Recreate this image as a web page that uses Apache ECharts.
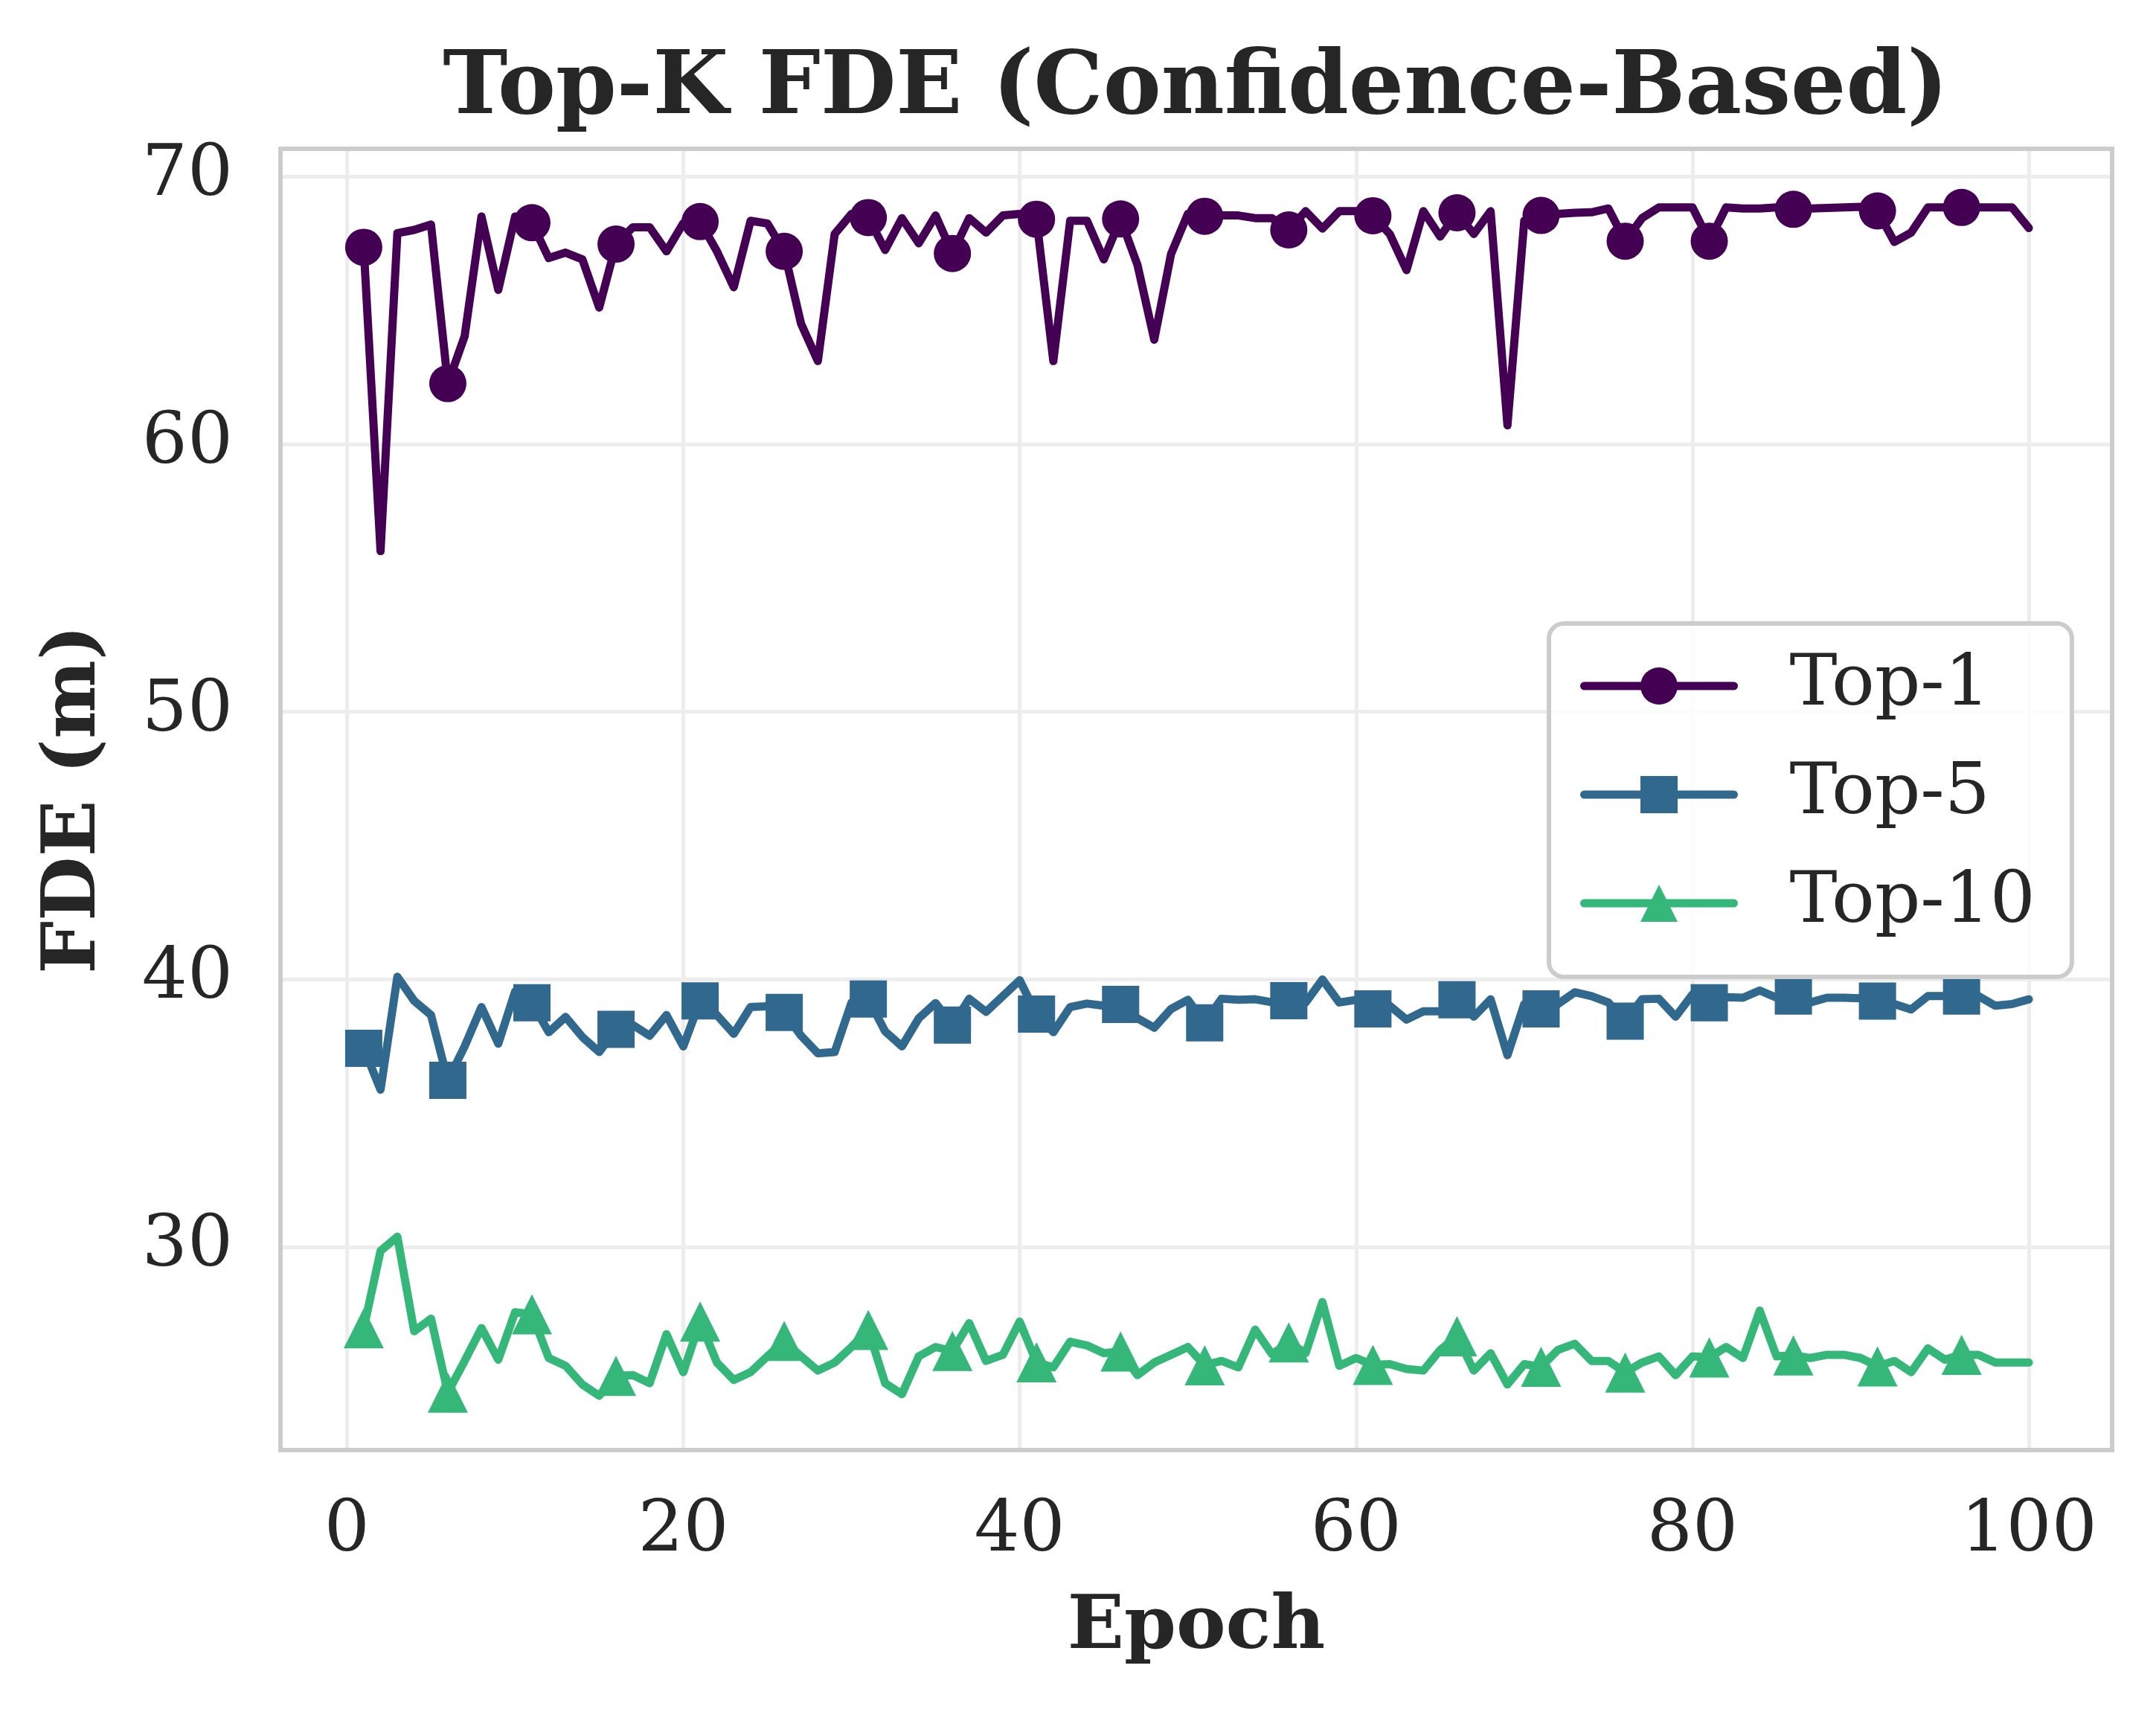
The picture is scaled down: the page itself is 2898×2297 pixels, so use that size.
<!DOCTYPE html>
<html>
<head>
<meta charset="utf-8">
<script src="https://cdn.jsdelivr.net/npm/echarts@6/dist/echarts.min.js"></script>
<style>
html,body{margin:0;padding:0;background:#ffffff;}
#chart{width:2898px;height:2297px;}
</style>
</head>
<body>
<div id="chart"></div>
<script>
// ---------------- data ----------------
const epochs = [
  1,2,3,4,5,6,7,8,9,10,
  11,12,13,14,15,16,17,18,19,20,
  21,22,23,24,25,26,27,28,29,30,
  31,32,33,34,35,36,37,38,39,40,
  41,42,43,44,45,46,47,48,49,50,
  51,52,53,54,55,56,57,58,59,60,
  61,62,63,64,65,66,67,68,69,70,
  71,72,73,74,75,76,77,78,79,80,
  81,82,83,84,85,86,87,88,89,90,
  91,92,93,94,95,96,97,98,99,100
];

const top1 = [
  67.35, 56.0, 67.88, 68.0, 68.2, 62.26, 64.03, 68.5, 65.76, 68.5,
  68.27, 66.95, 67.15, 66.9, 65.1, 67.47, 68.1, 68.1, 67.2, 68.25,
  68.31, 67.2, 65.86, 68.34, 68.24, 67.2, 64.5, 63.1, 67.85, 68.6,
  68.46, 67.25, 68.44, 67.5, 68.54, 67.12, 68.44, 67.9, 68.54, 68.6,
  68.4, 63.1, 68.34, 68.34, 66.9, 68.41, 66.7, 63.9, 67.1, 68.6,
  68.51, 68.54, 68.54, 68.44, 68.44, 68.0, 68.7, 68.05, 68.7, 68.7,
  68.53, 67.85, 66.5, 68.7, 67.75, 68.64, 67.85, 68.7, 60.7, 68.34,
  68.54, 68.6, 68.64, 68.66, 68.8, 67.58, 68.44, 68.84, 68.84, 68.84,
  67.58, 68.84, 68.8, 68.8, 68.84, 68.77, 68.8, 68.82, 68.84, 68.86,
  68.71, 67.55, 67.9, 68.84, 68.84, 68.84, 68.84, 68.84, 68.84, 68.07
];

const top5 = [
  37.43, 35.88, 40.1, 39.2, 38.67, 36.23, 37.5, 38.97, 37.6, 39.55,
  39.13, 38.03, 38.6, 37.85, 37.29, 38.14, 38.3, 37.9, 38.67, 37.5,
  39.2, 38.67, 37.97, 38.97, 39.0, 38.77, 37.9, 37.24, 37.29, 39.14,
  39.27, 38.06, 37.5, 38.55, 39.12, 38.3, 39.28, 38.79, 39.38, 39.97,
  38.71, 38.03, 38.97, 39.1, 39.02, 39.07, 38.55, 38.2, 38.9, 39.24,
  38.38, 39.28, 39.24, 39.26, 39.15, 39.21, 39.14, 40.0, 39.14, 39.24,
  38.9, 39.02, 38.5, 38.81, 38.81, 39.24, 38.61, 39.26, 37.17, 39.08,
  38.9, 39.08, 39.52, 39.38, 39.14, 38.44, 39.26, 39.28, 38.61, 39.44,
  39.13, 39.34, 39.32, 39.59, 39.32, 39.38, 39.14, 39.32, 39.32, 39.3,
  39.19, 39.08, 38.88, 39.38, 39.38, 39.38, 39.38, 39.02, 39.08, 39.26
];

const top10 = [
  26.97, 29.86, 30.39, 26.86, 27.33, 24.57, 25.75, 26.98, 25.8, 27.57,
  27.49, 25.86, 25.57, 24.87, 24.45, 25.19, 25.22, 24.92, 26.75, 25.33,
  27.22, 25.69, 25.04, 25.33, 25.92, 26.5, 25.92, 25.39, 25.69, 26.27,
  26.91, 24.92, 24.51, 25.92, 26.27, 26.12, 27.16, 25.75, 25.98, 27.22,
  25.7, 25.51, 26.47, 26.33, 26.04, 26.1, 25.22, 25.69, 25.98, 26.27,
  25.59, 25.75, 25.51, 26.92, 26.0, 26.44, 26.04, 27.95, 25.57, 25.86,
  25.6, 25.63, 25.45, 25.39, 26.16, 26.67, 25.39, 26.04, 24.87, 25.63,
  25.53, 26.16, 26.39, 25.75, 25.75, 25.32, 25.69, 25.92, 25.22, 25.92,
  25.88, 26.27, 25.86, 27.63, 25.92, 25.96, 25.86, 25.98, 25.98, 25.86,
  25.55, 25.75, 25.33, 26.22, 25.8, 25.98, 25.98, 25.69, 25.69, 25.69
];

const seriesNames = ['Top-1', 'Top-5', 'Top-10'];
const xTickLabels = [0, 20, 40, 60, 80, 100];
const yTickLabels = [30, 40, 50, 60, 70];

// ---------------- styles ----------------
const FONT = '"DejaVu Serif", "Liberation Serif", serif';
const TEXT = '#262626';
const colors = ['#440154', '#31688e', '#35b779'];
const symbols = ['circle', 'rect', 'triangle'];
const symbolSizes = [50, 50, [54, 54]];
const markEvery = 5;
const LINE_W = 11;

function buildData(values) {
  return epochs.map((e, i) => {
    const item = { value: [e, values[i]] };
    if (i % markEvery !== 0) item.symbol = 'none';
    return item;
  });
}
const allValues = [top1, top5, top10];

function tickFormatter(list) {
  return function (v) {
    const r = Math.round(v);
    return (Math.abs(v - r) < 1e-6 && list.indexOf(r) >= 0) ? String(r) : '';
  };
}

const chart = echarts.init(document.getElementById('chart'), null, { renderer: 'canvas' });

const option = {
  animation: false,
  backgroundColor: '#ffffff',
  textStyle: { fontFamily: FONT, color: TEXT },
  graphic: [{
    type: 'text',
    x: 1607,
    y: 63,
    style: {
      text: 'Top-K FDE (Confidence-Based)',
      font: 'bold 117px ' + FONT,
      fill: TEXT,
      textAlign: 'center',
      textVerticalAlign: 'top',
      align: 'center',
      verticalAlign: 'top'
    }
  }],
  grid: {
    left: 377, right: 59, top: 200, bottom: 348,
    show: true,
    borderColor: '#cccccc',
    borderWidth: 6,
    backgroundColor: 'transparent',
    containLabel: false,
    outerBoundsMode: 'none',
    z: 3
  },
  legend: {
    orient: 'vertical',
    left: 2082,
    top: 838,
    padding: [36, 49, 51, 42],
    itemWidth: 201,
    itemHeight: 62.5,
    itemGap: 50,
    backgroundColor: 'rgba(255,255,255,0.8)',
    borderColor: '#cccccc',
    borderWidth: 6,
    borderRadius: 20,
    lineStyle: { width: LINE_W, cap: 'round' },
    textStyle: {
      fontFamily: FONT,
      fontSize: 96,
      lineHeight: 96,
      color: TEXT,
      padding: [0, 0, 0, 70]
    },
    data: seriesNames
  },
  xAxis: {
    type: 'value',
    min: -3.95,
    max: 104.95,
    name: 'Epoch',
    nameLocation: 'middle',
    nameGap: 190,
    nameTextStyle: { fontFamily: FONT, fontSize: 100, fontWeight: 'bold', color: TEXT },
    axisLine: { show: false },
    axisTick: { show: false },
    axisLabel: {
      fontFamily: FONT, fontSize: 96, color: TEXT, margin: 62,
      formatter: tickFormatter(xTickLabels),
      showMinLabel: false, showMaxLabel: false
    },
    splitLine: {
      show: true,
      showMinLine: false, showMaxLine: false,
      lineStyle: { color: '#ededed', width: 5 }
    }
  },
  yAxis: {
    type: 'value',
    min: 22.42,
    max: 71.03,
    name: 'FDE (m)',
    nameLocation: 'middle',
    nameGap: 226,
    nameRotate: 90,
    nameTextStyle: { fontFamily: FONT, fontSize: 100, fontWeight: 'bold', color: TEXT },
    axisLine: { show: false },
    axisTick: { show: false },
    axisLabel: {
      fontFamily: FONT, fontSize: 96, color: TEXT, margin: 64,
      formatter: tickFormatter(yTickLabels),
      showMinLabel: false, showMaxLabel: false
    },
    splitLine: {
      show: true,
      showMinLine: false, showMaxLine: false,
      lineStyle: { color: '#ededed', width: 5 }
    }
  },
  series: seriesNames.map((name, k) => ({
    name: name,
    type: 'line',
    data: buildData(allValues[k]),
    symbol: symbols[k],
    symbolSize: symbolSizes[k],
    showSymbol: true,
    showAllSymbol: true,
    color: colors[k],
    itemStyle: { color: colors[k], borderWidth: 0 },
    lineStyle: { color: colors[k], width: LINE_W, cap: 'round', join: 'round' },
    emphasis: { disabled: true },
    z: 2 + k * 0.01
  }))
};

chart.setOption(option);
</script>
</body>
</html>
